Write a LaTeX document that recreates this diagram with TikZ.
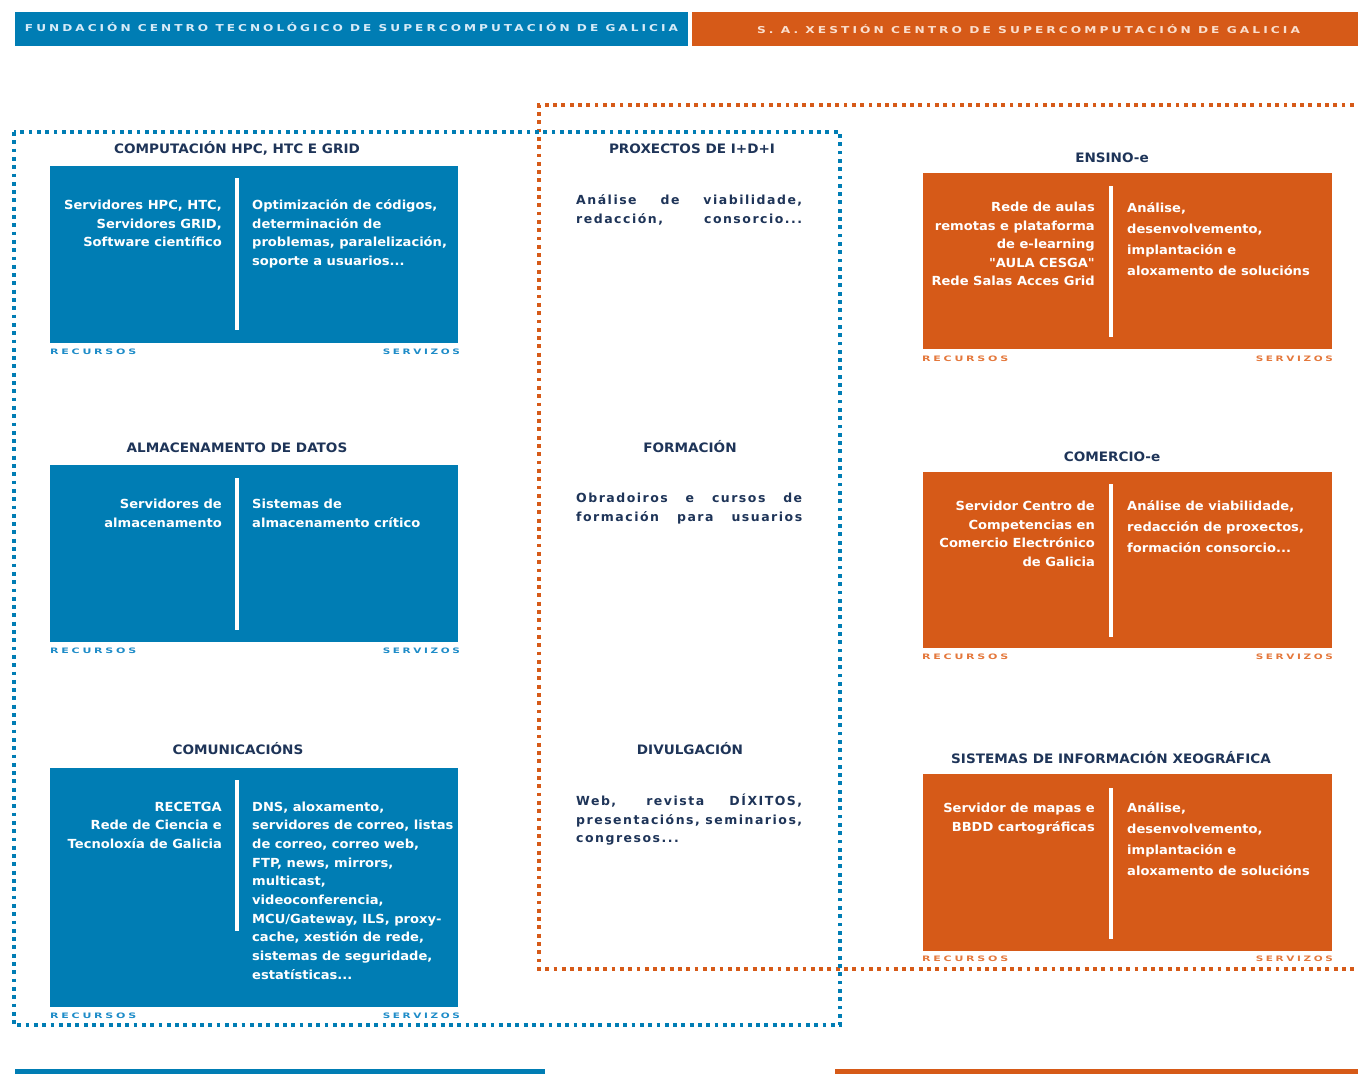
\documentclass[tikz,border=0pt]{standalone}
\usepackage{fontspec}
\setmainfont{DejaVu Sans}[FakeStretch=1.045, Ligatures=TeXOff]
\newfontfamily\midfont{DejaVu Sans}[LetterSpace=12]
\newfontfamily\banfont{DejaVu Sans}[LetterSpace=25]
\definecolor{cblue}{RGB}{0,125,180}
\definecolor{corange}{RGB}{214,90,24}
\definecolor{cnavy}{RGB}{30,52,88}
\definecolor{cbluelbl}{RGB}{30,140,200}
\definecolor{corangelbl}{RGB}{228,120,60}
\definecolor{cbanb}{RGB}{215,235,248}
\definecolor{cbano}{RGB}{250,222,205}
\newcommand\myfit[2]{\resizebox{#1}{\height}{#2}}
\tikzset{
  boxtxt/.style={text=white, inner sep=0pt, font=\bfseries\fontsize{12.5}{18.7}\selectfont},
  lefttxt/.style={boxtxt, align=right, anchor=base east},
  righttxt/.style={boxtxt, align=left, anchor=base west},
  widetxt/.style={righttxt, font=\bfseries\fontsize{12.5}{21}\selectfont},
  ttl/.style={text=cnavy, inner sep=0pt, anchor=base, font=\bfseries\fontsize{13}{16}\selectfont},
  midtxt/.style={text=cnavy, inner sep=0pt, anchor=base west, align=left, font=\midfont\bfseries\fontsize{12.5}{18.5}\selectfont},
  bdots/.style={draw=cblue, line width=3.8pt, dash pattern=on 3.8pt off 4.5pt},
  odots/.style={draw=corange, line width=3.8pt, dash pattern=on 3.8pt off 4.5pt},
  divider/.style={draw=white, line width=4pt},
  lblb/.style={text=cbluelbl, inner sep=0pt, font=\banfont\bfseries\fontsize{7.5}{8}\selectfont},
  lblo/.style={lblb, text=corangelbl},
  bantxt/.style={inner sep=0pt, anchor=base, font=\banfont\bfseries\fontsize{9.5}{10}\selectfont},
}
\begin{document}
\begin{tikzpicture}[x=1pt,y=-1pt]
\useasboundingbox (0,0) rectangle (1358,1074);
% banners
\fill[cblue] (15,12) rectangle (688,46);
\fill[corange] (692,12) rectangle (1358,46);
\node[bantxt, text=cbanb] (banb) at (351.5,31.5) {\myfit{653pt}{FUNDACIÓN CENTRO TECNOLÓGICO DE SUPERCOMPUTACIÓN DE GALICIA}};
\node[bantxt, text=cbano] (bano) at (1028.5,33.5) {\myfit{543pt}{S. A. XESTIÓN CENTRO DE SUPERCOMPUTACIÓN DE GALICIA}};
% bottom bars
\fill[cblue] (15,1069) rectangle (545,1074);
\fill[corange] (835,1069) rectangle (1358,1074);
% dotted frames
\draw[odots] (1362,105) -- (539,105) -- (539,969) -- (1362,969);
\draw[bdots] (14,132) rectangle (840,1025);

% ---------- blue boxes ----------
\fill[cblue] (50,166) rectangle (458,343);
\fill[cblue] (50,465) rectangle (458,642);
\fill[cblue] (50,768) rectangle (458,1007);
\draw[divider] (237,178) -- (237,330);
\draw[divider] (237,478) -- (237,630);
\draw[divider] (237,780) -- (237,931);

% (multi-line nodes: base anchor = last line's baseline)
\node[ttl] (t1) at (237,153.5) {COMPUTACIÓN HPC, HTC E GRID};
\node[lefttxt] (b1l) at (222,246.9) {Servidores HPC, HTC,\\Servidores GRID,\\Software científico};
\node[righttxt] (b1r) at (252,265.6) {Optimización de códigos,\\determinación de\\problemas, paralelización,\\soporte a usuarios...};

\node[ttl] (t2) at (237,452.5) {ALMACENAMENTO DE DATOS};
\node[lefttxt] (b2l) at (222,527.2) {Servidores de\\almacenamento};
\node[righttxt] (b2r) at (252,527.2) {Sistemas de\\almacenamento crítico};

\node[ttl] (t3) at (238,754.5) {COMUNICACIÓNS};
\node[lefttxt] (b3l) at (222,848.4) {RECETGA\\Rede de Ciencia e\\Tecnoloxía de Galicia};
\node[righttxt] (b3r) at (252,979.3) {DNS, aloxamento,\\servidores de correo, listas\\de correo, correo web,\\FTP, news, mirrors,\\multicast,\\videoconferencia,\\MCU/Gateway, ILS, proxy-\\cache, xestión de rede,\\sistemas de seguridade,\\estatísticas...};

\node[lblb, anchor=base west] (r1) at (50,354) {\myfit{86pt}{RECURSOS}};
\node[lblb, anchor=base east] (s1) at (460,354) {\myfit{77pt}{SERVIZOS}};
\node[lblb, anchor=base west] (r2) at (50,653) {\myfit{86pt}{RECURSOS}};
\node[lblb, anchor=base east] (s2) at (460,653) {\myfit{77pt}{SERVIZOS}};
\node[lblb, anchor=base west] (r3) at (50,1018) {\myfit{86pt}{RECURSOS}};
\node[lblb, anchor=base east] (s3) at (460,1018) {\myfit{77pt}{SERVIZOS}};

% ---------- middle column ----------
\node[ttl] (m1) at (692,153.5) {PROXECTOS DE I+D+I};
\node[midtxt] (m1t) at (576,223) {\makebox[226pt][s]{Análise de viabilidade,}\\\makebox[226pt][s]{redacción, consorcio...}};
\node[ttl] (m2) at (690,452.5) {FORMACIÓN};
\node[midtxt] (m2t) at (576,521) {\makebox[226pt][s]{Obradoiros e cursos de}\\\makebox[226pt][s]{formación para usuarios}};
\node[ttl] (m3) at (690,754.5) {DIVULGACIÓN};
\node[midtxt] (m3t) at (576,842.5) {\makebox[226pt][s]{Web, revista DÍXITOS,}\\\makebox[226pt][s]{presentacións, seminarios,}\\congresos...};

% ---------- orange boxes ----------
\fill[corange] (923,173) rectangle (1332,349);
\fill[corange] (923,472) rectangle (1332,648);
\fill[corange] (923,774) rectangle (1332,951);
\draw[divider] (1111,186) -- (1111,337);
\draw[divider] (1111,484) -- (1111,637);
\draw[divider] (1111,788) -- (1111,939);

\node[ttl] (o1) at (1112,162.5) {ENSINO-e};
\node[lefttxt, font=\bfseries\fontsize{12.5}{18.5}\selectfont] (o1l) at (1095,285.5) {Rede de aulas\\remotas e plataforma\\de e-learning\\"AULA CESGA"\\Rede Salas Acces Grid};
\node[widetxt] (o1r) at (1127,275.5) {Análise,\\desenvolvemento,\\implantación e\\aloxamento de solucións};

\node[ttl] (o2) at (1112,461.5) {COMERCIO-e};
\node[lefttxt, font=\bfseries\fontsize{12.5}{18.5}\selectfont] (o2l) at (1095,566) {Servidor Centro de\\Competencias en\\Comercio Electrónico\\de Galicia};
\node[widetxt] (o2r) at (1127,552.5) {Análise de viabilidade,\\redacción de proxectos,\\formación consorcio...};

\node[ttl] (o3) at (1111,763.5) {SISTEMAS DE INFORMACIÓN XEOGRÁFICA};
\node[lefttxt, font=\bfseries\fontsize{12.5}{18.5}\selectfont] (o3l) at (1095,831) {Servidor de mapas e\\BBDD cartográficas};
\node[widetxt] (o3r) at (1127,875.5) {Análise,\\desenvolvemento,\\implantación e\\aloxamento de solucións};

\node[lblo, anchor=base west] (r4) at (922,361) {\myfit{86pt}{RECURSOS}};
\node[lblo, anchor=base east] (s4) at (1333,361) {\myfit{77pt}{SERVIZOS}};
\node[lblo, anchor=base west] (r5) at (922,659) {\myfit{86pt}{RECURSOS}};
\node[lblo, anchor=base east] (s5) at (1333,659) {\myfit{77pt}{SERVIZOS}};
\node[lblo, anchor=base west] (r6) at (922,961) {\myfit{86pt}{RECURSOS}};
\node[lblo, anchor=base east] (s6) at (1333,961) {\myfit{77pt}{SERVIZOS}};
\end{tikzpicture}
\end{document}
